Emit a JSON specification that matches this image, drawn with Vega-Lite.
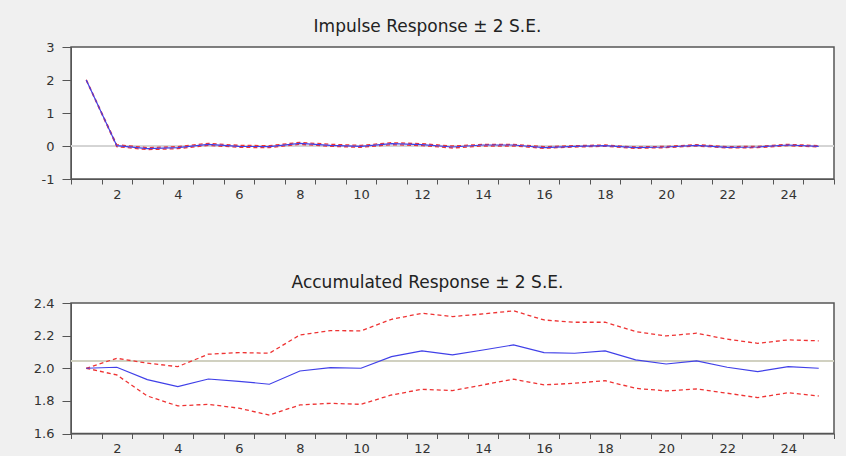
{
  "$schema": "https://vega.github.io/schema/vega-lite/v6.json",
  "background": "#f0f0f0",
  "padding": {"left": 32, "top": 17, "right": 0, "bottom": 0},
  "autosize": {"type": "pad"},
  "spacing": 71,
  "config": {
    "view": {"stroke": "#555555", "strokeWidth": 1.5, "fill": "white"},
    "font": "DejaVu Sans",
    "axis": {"labelFont": "DejaVu Sans", "labelFontSize": 13, "labelColor": "#333333", "tickColor": "#555555", "domainColor": "#555555", "grid": false, "title": null, "tickSize": 5, "labelPadding": 4, "labelOverlap": false, "labelFlush": false, "labelBound": false},
    "axisY": {"tickSize": 9, "labelPadding": 8, "tickCount": 20},
    "title": {"font": "DejaVu Sans", "fontSize": 17, "fontWeight": "normal", "color": "#222222", "offset": 5, "dx": -25}
  },
  "datasets": {
    "ir": [
      {"period": 1, "resp": 2.0, "upper": 2.01, "lower": 1.99},
      {"period": 2, "resp": 0.01, "upper": 0.04, "lower": -0.02},
      {"period": 3, "resp": -0.08, "upper": -0.05, "lower": -0.11},
      {"period": 4, "resp": -0.05, "upper": -0.02, "lower": -0.08},
      {"period": 5, "resp": 0.05, "upper": 0.08, "lower": 0.02},
      {"period": 6, "resp": -0.01, "upper": 0.02, "lower": -0.04},
      {"period": 7, "resp": -0.02, "upper": 0.01, "lower": -0.05},
      {"period": 8, "resp": 0.08, "upper": 0.11, "lower": 0.05},
      {"period": 9, "resp": 0.02, "upper": 0.05, "lower": -0.01},
      {"period": 10, "resp": -0.01, "upper": 0.02, "lower": -0.04},
      {"period": 11, "resp": 0.07, "upper": 0.1, "lower": 0.04},
      {"period": 12, "resp": 0.04, "upper": 0.07, "lower": 0.01},
      {"period": 13, "resp": -0.03, "upper": 0.0, "lower": -0.06},
      {"period": 14, "resp": 0.03, "upper": 0.05, "lower": 0.0},
      {"period": 15, "resp": 0.03, "upper": 0.05, "lower": 0.0},
      {"period": 16, "resp": -0.05, "upper": -0.02, "lower": -0.07},
      {"period": 17, "resp": -0.01, "upper": 0.01, "lower": -0.03},
      {"period": 18, "resp": 0.01, "upper": 0.03, "lower": -0.01},
      {"period": 19, "resp": -0.05, "upper": -0.03, "lower": -0.07},
      {"period": 20, "resp": -0.03, "upper": -0.01, "lower": -0.05},
      {"period": 21, "resp": 0.02, "upper": 0.04, "lower": 0.0},
      {"period": 22, "resp": -0.04, "upper": -0.02, "lower": -0.06},
      {"period": 23, "resp": -0.03, "upper": -0.01, "lower": -0.05},
      {"period": 24, "resp": 0.03, "upper": 0.05, "lower": 0.01},
      {"period": 25, "resp": -0.01, "upper": 0.01, "lower": -0.03}
    ],
    "acc": [
      {"period": 1, "resp": 2.0, "upper": 2.0, "lower": 2.0},
      {"period": 2, "resp": 2.006, "upper": 2.061, "lower": 1.959},
      {"period": 3, "resp": 1.93, "upper": 2.031, "lower": 1.83},
      {"period": 4, "resp": 1.887, "upper": 2.01, "lower": 1.769},
      {"period": 5, "resp": 1.934, "upper": 2.086, "lower": 1.779},
      {"period": 6, "resp": 1.92, "upper": 2.096, "lower": 1.755},
      {"period": 7, "resp": 1.902, "upper": 2.092, "lower": 1.713},
      {"period": 8, "resp": 1.983, "upper": 2.204, "lower": 1.775},
      {"period": 9, "resp": 2.004, "upper": 2.231, "lower": 1.785},
      {"period": 10, "resp": 2.0, "upper": 2.229, "lower": 1.779},
      {"period": 11, "resp": 2.071, "upper": 2.3, "lower": 1.836},
      {"period": 12, "resp": 2.106, "upper": 2.337, "lower": 1.871},
      {"period": 13, "resp": 2.082, "upper": 2.317, "lower": 1.863},
      {"period": 14, "resp": 2.112, "upper": 2.333, "lower": 1.898},
      {"period": 15, "resp": 2.143, "upper": 2.352, "lower": 1.933},
      {"period": 16, "resp": 2.096, "upper": 2.296, "lower": 1.898},
      {"period": 17, "resp": 2.092, "upper": 2.282, "lower": 1.908},
      {"period": 18, "resp": 2.106, "upper": 2.282, "lower": 1.924},
      {"period": 19, "resp": 2.051, "upper": 2.225, "lower": 1.877},
      {"period": 20, "resp": 2.026, "upper": 2.198, "lower": 1.861},
      {"period": 21, "resp": 2.045, "upper": 2.215, "lower": 1.873},
      {"period": 22, "resp": 2.006, "upper": 2.178, "lower": 1.847},
      {"period": 23, "resp": 1.979, "upper": 2.153, "lower": 1.82},
      {"period": 24, "resp": 2.01, "upper": 2.174, "lower": 1.85},
      {"period": 25, "resp": 2.0, "upper": 2.168, "lower": 1.83}
    ]
  },
  "vconcat": [
    {
      "width": 763,
      "height": 132,
      "title": {"text": "Impulse Response ± 2 S.E."},
      "data": {"name": "ir"},
      "encoding": {
        "x": {"field": "period", "type": "quantitative",
          "scale": {"domain": [0.5, 25.5], "nice": false, "zero": false},
          "axis": {"values": [0.5,1.5,2.5,3.5,4.5,5.5,6.5,7.5,8.5,9.5,10.5,11.5,12.5,13.5,14.5,15.5,16.5,17.5,18.5,19.5,20.5,21.5,22.5,23.5,24.5,25.5],
            "labelExpr": "(datum.value < 25 && (datum.value + 0.5) % 2 == 0) ? format(datum.value + 0.5, 'd') : ''",
            "labelOffset": 15.26, "tickCount": 40}}
      },
      "layer": [
        {"mark": {"type": "rule", "color": "#d4d4d4", "strokeWidth": 1},
         "encoding": {"x": null, "y": {"datum": 0, "type": "quantitative", "scale": {"domain": [-1, 3], "nice": false, "zero": false}, "axis": {"values": [-1, 0, 1, 2, 3], "tickCount": 20, "labelOverlap": false, "labelExpr": "datum.value < 0 ? '-' + format(-datum.value, 'd') : format(datum.value, 'd')"}}}},
        {"mark": {"type": "line", "color": "#ee3333", "strokeDash": [4, 3], "strokeWidth": 1.3},
         "encoding": {"y": {"field": "upper", "type": "quantitative"}}},
        {"mark": {"type": "line", "color": "#ee3333", "strokeDash": [4, 3], "strokeWidth": 1.3},
         "encoding": {"y": {"field": "lower", "type": "quantitative"}}},
        {"mark": {"type": "line", "color": "#4040e8", "strokeWidth": 1.2},
         "encoding": {"y": {"field": "resp", "type": "quantitative"}}}
      ]
    },
    {
      "width": 763,
      "height": 130.5,
      "title": {"text": "Accumulated Response ± 2 S.E."},
      "data": {"name": "acc"},
      "encoding": {
        "x": {"field": "period", "type": "quantitative",
          "scale": {"domain": [0.5, 25.5], "nice": false, "zero": false},
          "axis": {"values": [0.5,1.5,2.5,3.5,4.5,5.5,6.5,7.5,8.5,9.5,10.5,11.5,12.5,13.5,14.5,15.5,16.5,17.5,18.5,19.5,20.5,21.5,22.5,23.5,24.5,25.5],
            "labelExpr": "(datum.value < 25 && (datum.value + 0.5) % 2 == 0) ? format(datum.value + 0.5, 'd') : ''",
            "labelOffset": 15.26, "tickCount": 40}}
      },
      "layer": [
        {"mark": {"type": "rule", "color": "#d0d0c0", "strokeWidth": 1},
         "encoding": {"x": null, "y": {"datum": 2.045, "type": "quantitative", "scale": {"domain": [1.6, 2.4], "nice": false, "zero": false}, "axis": {"values": [1.6, 1.8, 2.0, 2.2, 2.4], "tickCount": 20, "labelOverlap": false, "format": ".1f"}}}},
        {"mark": {"type": "line", "color": "#ee3333", "strokeDash": [4, 3], "strokeWidth": 1.3},
         "encoding": {"y": {"field": "upper", "type": "quantitative"}}},
        {"mark": {"type": "line", "color": "#ee3333", "strokeDash": [4, 3], "strokeWidth": 1.3},
         "encoding": {"y": {"field": "lower", "type": "quantitative"}}},
        {"mark": {"type": "line", "color": "#4040e8", "strokeWidth": 1.2},
         "encoding": {"y": {"field": "resp", "type": "quantitative"}}}
      ]
    }
  ]
}
